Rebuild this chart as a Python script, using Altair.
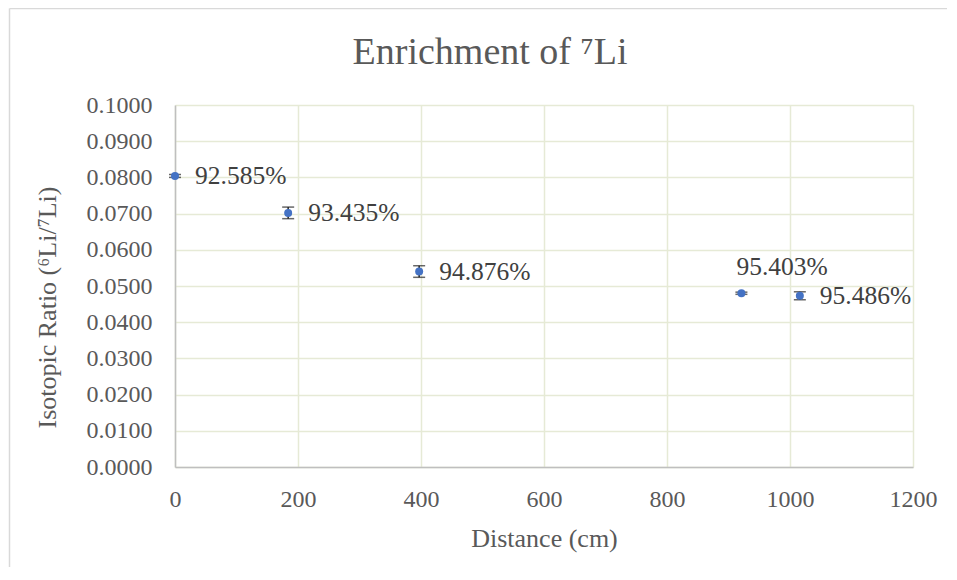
import altair as alt
import pandas as pd

# ---- data ----
distance = [0, 184, 397, 921, 1016]
ratio = [0.0804, 0.0702, 0.0540, 0.0480, 0.0473]
error = [0.0004, 0.0016, 0.0016, 0.0003, 0.0011]
labels = ["92.585%", "93.435%", "94.876%", "95.403%", "95.486%"]
label_pos = ["right", "right", "right", "above", "right"]

x_ticks = [0, 200, 400, 600, 800, 1000, 1200]
y_ticks = [0.0, 0.01, 0.02, 0.03, 0.04, 0.05, 0.06, 0.07, 0.08, 0.09, 0.10]

chart_title = "Enrichment of \u2077Li"

df = pd.DataFrame({
    "distance": distance,
    "ratio": ratio,
    "lo": [r - e for r, e in zip(ratio, error)],
    "hi": [r + e for r, e in zip(ratio, error)],
    "label": labels,
    "pos": label_pos,
})

FONT = "Liberation Serif"
GRID = "#E6EAD6"
AXIS = "#BFBFBF"
TXT = "#595959"

x_scale = alt.Scale(domain=[0, 1200], nice=False, zero=False)
x_axis = alt.Axis(
    values=x_ticks, format="d", title="Distance (cm)",
    grid=True, gridColor=GRID, gridWidth=1.5,
    domainColor=AXIS, domainWidth=1.5,
    ticks=False, tickSize=0, labelOverlap=False, labelFlush=False,
    labelPadding=39, labelBaseline="alphabetic",
    labelFont=FONT, labelFontSize=24, labelColor=TXT,
    titleFont=FONT, titleFontSize=26, titleColor=TXT, titleFontWeight="normal",
    titleY=79, titleBaseline="alphabetic",
)
y_scale = alt.Scale(domain=[0, 0.1], nice=False, zero=False)
y_axis = alt.Axis(
    values=y_ticks, format=".4f", title="Isotopic Ratio (\u2076Li/\u2077Li)",
    grid=True, gridColor=GRID, gridWidth=1.5,
    domainColor=AXIS, domainWidth=1.5,
    ticks=False, tickSize=0, labelPadding=23, labelOverlap=False, labelFlush=False,
    labelFont=FONT, labelFontSize=24, labelColor=TXT,
    titleFont=FONT, titleFontSize=26, titleColor=TXT, titleFontWeight="normal",
    titleAngle=-90, titleX=-120, titleY=202, titleAlign="center",
    titleBaseline="alphabetic",
)


def X():
    return alt.X("distance:Q", scale=x_scale, axis=x_axis)


def Y(field):
    return alt.Y(field, type="quantitative", scale=y_scale, axis=y_axis)


base = alt.Chart(df)

rules = base.mark_rule(color="#262626", strokeWidth=1.5).encode(
    x=X(), y=Y("lo"), y2="hi:Q"
)
cap_lo = base.mark_tick(orient="horizontal", size=12, thickness=1.5, color="#262626").encode(
    x=X(), y=Y("lo")
)
cap_hi = base.mark_tick(orient="horizontal", size=12, thickness=1.5, color="#262626").encode(
    x=X(), y=Y("hi")
)
points = base.mark_circle(size=64, opacity=1, color="#4472C4").encode(
    x=X(), y=Y("ratio")
)
text_right = base.transform_filter(alt.datum.pos == "right").mark_text(
    align="left", baseline="middle", dx=20, font=FONT, fontSize=25.5, color="#404040"
).encode(x=X(), y=Y("ratio"), text="label:N")
text_above = base.transform_filter(alt.datum.pos == "above").mark_text(
    align="left", baseline="middle", dx=-5, dy=-26, font=FONT, fontSize=25.5, color="#404040"
).encode(x=X(), y=Y("ratio"), text="label:N")

frame_df = pd.DataFrame({"title": [chart_title]})
frame_left = alt.Chart(frame_df).mark_rule(color="#D9D9D9", strokeWidth=1.5).encode(
    x=alt.value(-165.5), y=alt.value(-96.5), y2=alt.value(600)
)
frame_top = alt.Chart(frame_df).mark_rule(color="#D9D9D9", strokeWidth=1.5).encode(
    x=alt.value(-165.5), x2=alt.value(900), y=alt.value(-96.5)
)
title_mark = alt.Chart(frame_df).mark_text(
    align="center", baseline="alphabetic", font=FONT, fontSize=38, color=TXT
).encode(x=alt.value(315), y=alt.value(-41), text="title:N")

chart = alt.layer(
    rules, cap_lo, cap_hi, points, text_right, text_above,
    frame_left, frame_top, title_mark
).properties(
    width=738,
    height=362,
    autosize=alt.AutoSizeParams(type="none"),
    padding={"left": 167, "top": 97, "right": 34, "bottom": 100},
    background="white",
).configure_view(stroke="transparent").configure_text(font=FONT)

chart.save("out.html", embed_options={"renderer": "svg", "actions": False})
